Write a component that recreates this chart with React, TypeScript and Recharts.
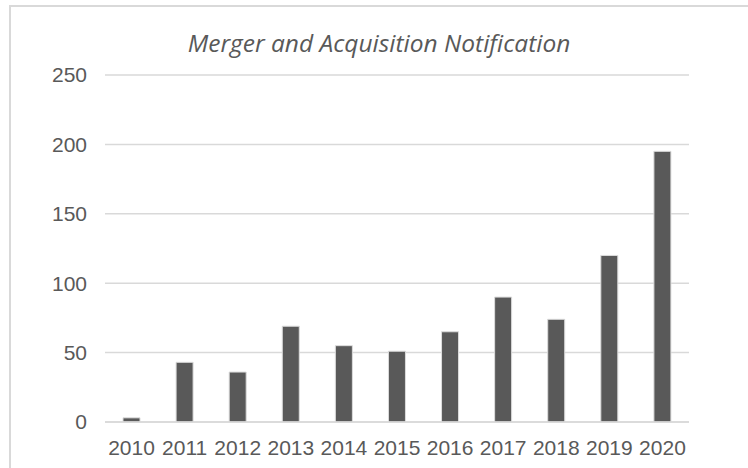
import { BarChart, Bar, XAxis, YAxis, CartesianGrid } from 'recharts'

const years = ['2010', '2011', '2012', '2013', '2014', '2015', '2016', '2017', '2018', '2019', '2020']
const notifications = [3, 43, 36, 69, 55, 51, 65, 90, 74, 120, 195]
const yTicks = [0, 50, 100, 150, 200, 250]

const data = years.map((year, i) => ({ year, value: notifications[i] }))

const axisText = { fontSize: 21, fill: '#595959', fontFamily: 'Liberation Sans, Arial, sans-serif' }

export default function App() {
  return (
    <div style={{ position: 'fixed', left: 0, top: 0, width: 748, height: 468, background: '#fff', overflow: 'hidden' }}>
      <div
        style={{
          position: 'absolute',
          left: 9,
          top: 5,
          width: 760,
          height: 480,
          borderTop: '2px solid #d9d9d9',
          borderLeft: '2px solid #d9d9d9',
        }}
      />
      <div
        style={{
          position: 'absolute',
          left: 10,
          top: 26,
          width: 738,
          textAlign: 'center',
          fontFamily: '"Open Sans", sans-serif',
          fontStyle: 'italic',
          fontSize: 24.5,
          color: '#595959',
          whiteSpace: 'nowrap',
        }}
      >
        Merger and Acquisition Notification
      </div>
      <div style={{ position: 'absolute', left: 0, top: 0 }}>
        <BarChart width={748} height={468} data={data} margin={{ top: 75, right: 59, left: 0, bottom: 0 }}>
          <CartesianGrid vertical={false} stroke="#d9d9d9" strokeWidth={1.5} />
          <XAxis
            dataKey="year"
            height={46}
            tick={axisText}
            tickLine={false}
            tickMargin={12}
            axisLine={{ stroke: '#d9d9d9', strokeWidth: 1.5 }}
            interval={0}
          />
          <YAxis
            width={105}
            domain={[0, 250]}
            ticks={yTicks}
            tick={axisText}
            tickLine={false}
            tickMargin={12}
            axisLine={false}
          />
          <Bar dataKey="value" fill="#595959" stroke="#dcdcdc" strokeWidth={1} barSize={17} isAnimationActive={false} />
        </BarChart>
      </div>
    </div>
  )
}
